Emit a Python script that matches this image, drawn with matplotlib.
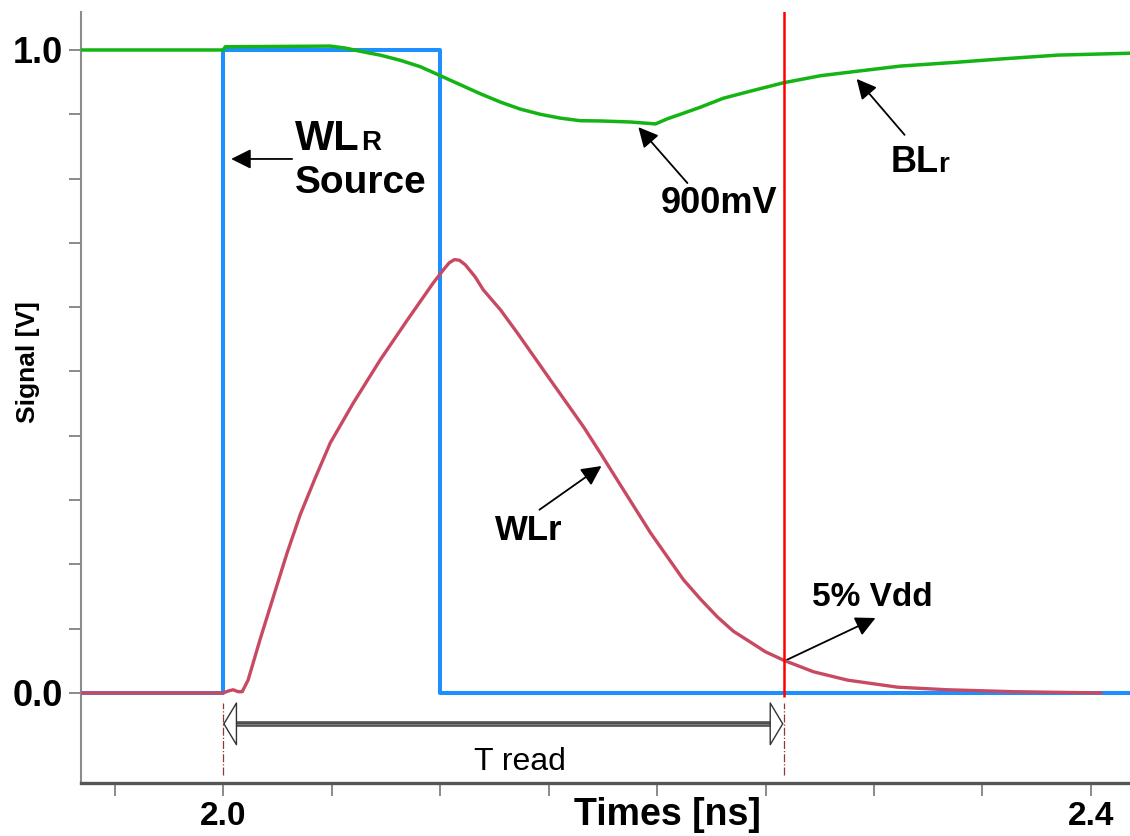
import numpy as np
import matplotlib
matplotlib.use('Agg')
from matplotlib import pyplot as plt

plt.rcParams['font.family'] = ['Liberation Sans', 'DejaVu Sans']

# WLR source pulse
src_t = [1.9345, 2.0, 2.0, 2.1, 2.1, 2.4184]
src_v = [0.0, 0.0, 1.0, 1.0, 0.0, 0.0]

# BLr (bit line)
bl_t = [1.9345, 2.0, 2.001, 2.048, 2.0494, 2.0563, 2.0632, 2.0724, 2.0816, 2.0909,
        2.1001, 2.1093, 2.1185, 2.1278, 2.137, 2.1462, 2.1554, 2.1647, 2.1739, 2.1877,
        2.1993, 2.2048, 2.2108, 2.22, 2.2306, 2.2431, 2.2583, 2.2754, 2.2924, 2.3123,
        2.3386, 2.3584, 2.3847, 2.4184]
bl_v = [1.0, 1.0, 1.005, 1.006, 1.006, 1.003, 0.998, 0.992, 0.984, 0.974,
        0.960, 0.946, 0.932, 0.919, 0.908, 0.900, 0.894, 0.890, 0.8896, 0.888,
        0.885, 0.893, 0.900, 0.911, 0.925, 0.936, 0.949, 0.960, 0.967, 0.975,
        0.981, 0.986, 0.992, 0.995]

# WLr (word line)
wl_t = [1.9345, 2.0, 2.0023, 2.0046, 2.0069, 2.0088, 2.0115, 2.0171, 2.0231, 2.0295,
        2.0355, 2.0424, 2.0494, 2.06, 2.0724, 2.0849, 2.0969, 2.1015, 2.1042, 2.1066,
        2.1089, 2.1116, 2.1162, 2.1199, 2.1278, 2.1356, 2.1508, 2.1661, 2.1739, 2.1845,
        2.197, 2.2122, 2.22, 2.2279, 2.2352, 2.2431, 2.25, 2.2583, 2.2721, 2.2878,
        2.3109, 2.3339, 2.3644, 2.4045]
wl_v = [0.0, 0.0, 0.003, 0.005, 0.002, 0.002, 0.020, 0.084, 0.149, 0.218,
        0.277, 0.334, 0.389, 0.451, 0.518, 0.580, 0.638, 0.658, 0.669, 0.674,
        0.673, 0.666, 0.647, 0.627, 0.596, 0.560, 0.487, 0.414, 0.373, 0.316,
        0.249, 0.176, 0.146, 0.118, 0.096, 0.079, 0.064, 0.051, 0.033, 0.020,
        0.009, 0.005, 0.002, 0.0]

t_start = 2.0
t_end = 2.2583   # WLr reaches 5% Vdd

xtick_vals = [1.95, 2.0, 2.05, 2.1, 2.15, 2.2, 2.25, 2.3, 2.35, 2.4]
xtick_labels = ['', '2.0', '', '', '', '', '', '', '', '2.4']
ytick_vals = [0.0, 0.1, 0.2, 0.3, 0.4, 0.5, 0.6, 0.7, 0.8, 0.9, 1.0]
ytick_labels = ['0.0', '', '', '', '', '', '', '', '', '', '1.0']

fig = plt.figure(figsize=(11.3, 8.36), dpi=100)
ax = fig.add_axes([0.0717, 0.0634, 0.9283, 0.9222])

ax.plot(src_t, src_v, color='#1e8fff', lw=2.9, zorder=3)
ax.plot(bl_t, bl_v, color='#14b414', lw=2.5, zorder=3, solid_joinstyle='round')
ax.plot(wl_t, wl_v, color='#c84a62', lw=2.4, zorder=4, solid_joinstyle='round')
ax.vlines(t_end, -0.006, 1.2, color='#ff0000', lw=1.8, zorder=5)

ax.set_xlim(1.9345, 2.418)
ax.set_ylim(-0.14, 1.059)

ax.set_xticks(xtick_vals)
ax.set_xticklabels(xtick_labels, fontsize=24, fontweight='bold')
ax.set_yticks(ytick_vals)
ax.set_yticklabels(ytick_labels, fontsize=26, fontweight='bold')
ax.tick_params(axis='both', direction='out', length=9, width=1.2, color='#777777', pad=4)

for s in ['top', 'right']:
    ax.spines[s].set_visible(False)
ax.spines['left'].set_color('#8c8c8c')
ax.spines['left'].set_linewidth(1.5)
ax.spines['bottom'].set_color('#555555')
ax.spines['bottom'].set_linewidth(2.4)

ax.set_xlabel('Times [ns]', fontsize=27, fontweight='bold', va='center')
ax.xaxis.set_label_coords(0.5586, -0.042)
ax.set_ylabel('Signal [V]', fontsize=19, fontweight='bold', va='center')
ax.yaxis.set_label_coords(-0.0505, 0.546)

# T read span
for t in [t_start, t_end]:
    ax.vlines(t, -0.1275, -0.0156, color='#8b3a3a', lw=0.9, linestyles='dashdot', zorder=2)
ax.hlines(-0.048, t_start + 0.006, t_end - 0.006, color='#444444', lw=4, zorder=3)
ax.hlines(-0.048, t_start + 0.006, t_end - 0.006, color='#d8d8d8', lw=1.6, zorder=3)
ax.annotate('', xy=(t_start, -0.048), xytext=(t_end, -0.048),
            arrowprops=dict(arrowstyle='<|-|>,head_length=0.45,head_width=0.75',
                            mutation_scale=20, fc='white', ec='#333333', lw=1.0,
                            shrinkA=0, shrinkB=0), zorder=4)
ax.text(2.137, -0.107, 'T read', fontsize=23, ha='center', va='center')

arrow = dict(arrowstyle='-|>,head_length=0.6,head_width=0.3', mutation_scale=20,
             color='black', lw=1.3, shrinkA=0, shrinkB=0)

# WLR Source
ax.annotate('', xy=(2.0037, 0.8305), xytext=(2.0318, 0.8305), arrowprops=arrow)
ax.text(2.0332, 0.8445, 'WL', fontsize=30, fontweight='bold', ha='left', va='baseline')
ax.text(2.0637, 0.8445, 'R', fontsize=20, fontweight='bold', ha='left', va='baseline')
ax.text(2.0332, 0.7776, 'Source', fontsize=28, fontweight='bold', ha='left', va='baseline')

# 900mV
ax.annotate('', xy=(2.1914, 0.880), xytext=(2.214, 0.793), arrowprops=arrow)
ax.text(2.2288, 0.762, '900mV', fontsize=26, fontweight='bold', ha='center', va='center')

# BLr
ax.annotate('', xy=(2.292, 0.955), xytext=(2.3141, 0.868), arrowprops=arrow)
ax.text(2.3077, 0.810, 'BL', fontsize=26, fontweight='bold', ha='left', va='baseline')
ax.text(2.3295, 0.810, 'r', fontsize=20, fontweight='bold', ha='left', va='baseline')

# WLr
ax.annotate('', xy=(2.1744, 0.353), xytext=(2.1458, 0.285), arrowprops=arrow)
ax.text(2.1255, 0.238, 'WLr', fontsize=25, fontweight='bold', ha='left', va='baseline')

# 5% Vdd
ax.annotate('', xy=(2.3007, 0.1166), xytext=(2.2597, 0.0513), arrowprops=arrow)
ax.text(2.2994, 0.148, '5% Vdd', fontsize=24, fontweight='bold', ha='center', va='center')

fig.savefig('out.png', dpi=100)
